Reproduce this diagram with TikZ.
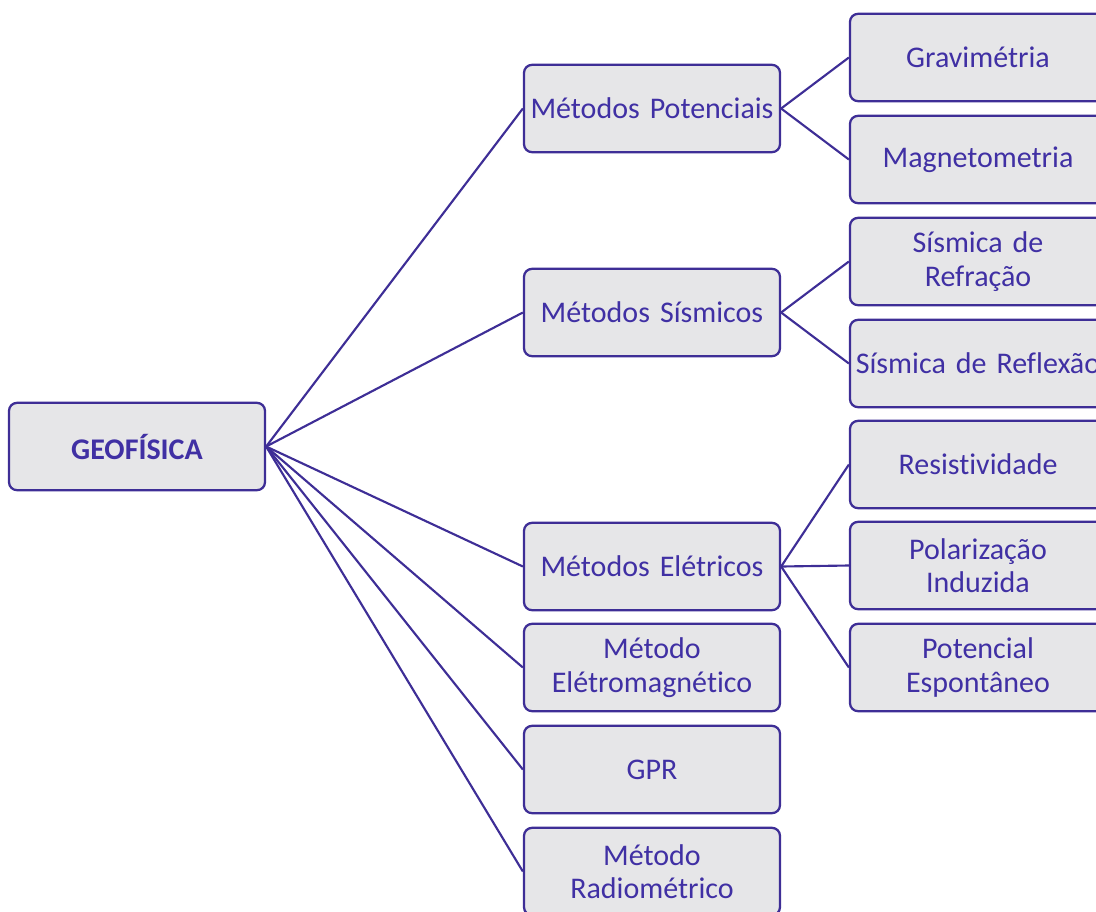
\documentclass[tikz,border=0pt]{standalone}
\usepackage{fontspec}
\setmainfont{Carlito}[Ligatures=NoCommon,WordSpace=0.8]
\definecolor{txt}{RGB}{64,48,164}
\definecolor{ln}{RGB}{62,46,150}
\definecolor{fillg}{RGB}{230,230,232}
\tikzset{
  box/.style={draw=ln, line width=1.7pt, fill=fillg, rounded corners=6pt,
    minimum width=190.5pt, minimum height=65.5pt, text width=192pt, align=center,
    inner sep=0pt, text=txt, font=\fontsize{22.5}{25}\selectfont},
  conn/.style={draw=ln, line width=1.6pt}
}
\begin{document}
\begin{tikzpicture}[x=0.75pt,y=-0.75pt]
\clip (0,0) rectangle (1096,911);
\node[box, font=\bfseries\fontsize{22.5}{25}\selectfont] (geo) at (137,446.5) {GEOFÍSICA};
\node[box] (pot) at (652,108.5) {Métodos Potenciais};
\node[box] (sis) at (652,312.5) {Métodos Sísmicos};
\node[box] (ele) at (652,566.5) {Métodos Elétricos};
\node[box] (em) at (652,667.5) {Método\\Elétromagnético};
\node[box] (gpr) at (652,769.5) {GPR};
\node[box] (rad) at (652,871.5) {Método\\Radiométrico};
\node[box] (grav) at (978,57.5) {Gravimétria};
\node[box] (mag) at (978,159.5) {Magnetometria};
\node[box] (refr) at (978,261.5) {Sísmica de\\Refração};
\node[box] (refl) at (978,363.5) {Sísmica de Reflexão};
\node[box] (res) at (978,464.5) {Resistividade};
\node[box] (pol) at (978,565.5) {Polarização\\Induzida};
\node[box] (esp) at (978,667.5) {Potencial\\Espontâneo};
\foreach \t in {pot,sis,ele,em,gpr,rad} \draw[conn] (geo.east) -- (\t.west);
\foreach \t in {grav,mag} \draw[conn] (pot.east) -- (\t.west);
\foreach \t in {refr,refl} \draw[conn] (sis.east) -- (\t.west);
\foreach \t in {res,pol,esp} \draw[conn] (ele.east) -- (\t.west);
\end{tikzpicture}
\end{document}
